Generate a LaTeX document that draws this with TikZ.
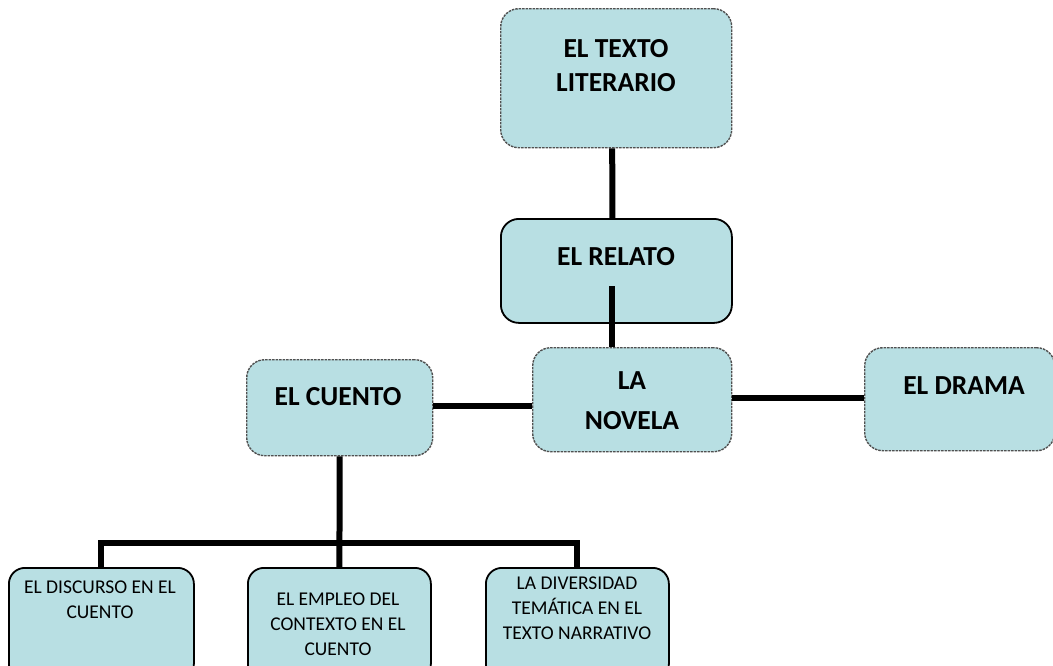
\documentclass[tikz,border=0pt]{standalone}
\usepackage{fontspec}
\setmainfont{Carlito}
\definecolor{boxfill}{RGB}{184,223,227}
\definecolor{dashgray}{RGB}{80,80,80}
\begin{document}
\begin{tikzpicture}[x=1pt,y=-1pt,
  boxbase/.style={rectangle, rounded corners=18pt, fill=boxfill, inner sep=0pt, anchor=north west},
  dashbox/.style={boxbase, draw=dashgray, line width=1.4pt, dash pattern=on 2.5pt off 1pt},
  solidbox/.style={boxbase, draw=black, line width=1.8pt},
  bigtxt/.style={font=\fontsize{27.5}{34}\selectfont\bfseries, align=center, inner sep=0pt},
  smalltxt/.style={font=\fontsize{19.5}{25}\selectfont, align=center, inner sep=0pt},
  conn/.style={draw=black, line width=6pt}
]
\useasboundingbox (0,0) rectangle (1053,665);
\clip (0,0) rectangle (1053,665);

% boxes
\node[dashbox, minimum width=231pt, minimum height=139pt] (lit) at (500,8) {};
\node[solidbox, minimum width=231pt, minimum height=104pt] (relato) at (500,218) {};
\node[dashbox, minimum width=199pt, minimum height=104pt] (novela) at (532,347) {};
\node[dashbox, minimum width=186pt, minimum height=96pt] (cuento) at (246,359) {};
\node[dashbox, minimum width=190pt, minimum height=103pt] (drama) at (864,347) {};
\node[solidbox, rounded corners=16pt, minimum width=185pt, minimum height=112pt] (b1) at (8,567) {};
\node[solidbox, rounded corners=16pt, minimum width=183pt, minimum height=112pt] (b2) at (247,567) {};
\node[solidbox, rounded corners=16pt, minimum width=183pt, minimum height=112pt] (b3) at (485,567) {};

% texts
\node[bigtxt] (tlit) at (616,66) {EL TEXTO\\LITERARIO};
\node[bigtxt] (trelato) at (616,257) {EL RELATO};
\node[bigtxt, font=\fontsize{27.5}{40}\selectfont\bfseries] (tnovela) at (632,401) {LA\\NOVELA};
\node[bigtxt] (tcuento) at (338,397) {EL CUENTO};
\node[bigtxt] (tdrama) at (964,386) {EL DRAMA};
\node[smalltxt] (tb1) at (100,600) {EL DISCURSO EN EL\\CUENTO};
\node[smalltxt] (tb2) at (338,624) {EL EMPLEO DEL\\CONTEXTO EN EL\\CUENTO};
\node[smalltxt] (tb3) at (577,608) {LA DIVERSIDAD\\TEMÁTICA EN EL\\TEXTO NARRATIVO};

% connectors
\coordinate (relin) at (612,286);
\coordinate (bus) at (338,543);
\draw[conn] ([xshift=-4pt]lit.south) -- ([xshift=-4pt]relato.north);
\draw[conn] (relin) -- (relin |- novela.north);
\draw[conn] ([yshift=2pt]cuento.east) -- ([yshift=2pt]cuento.east -| novela.west);
\draw[conn] ([yshift=2pt]novela.east) -- ([yshift=2pt]novela.east -| drama.west);
\draw[conn] (cuento.south) -- (b2.north);
\draw[conn] (b1.north) |- (bus) -| (b3.north);
\end{tikzpicture}
\end{document}
